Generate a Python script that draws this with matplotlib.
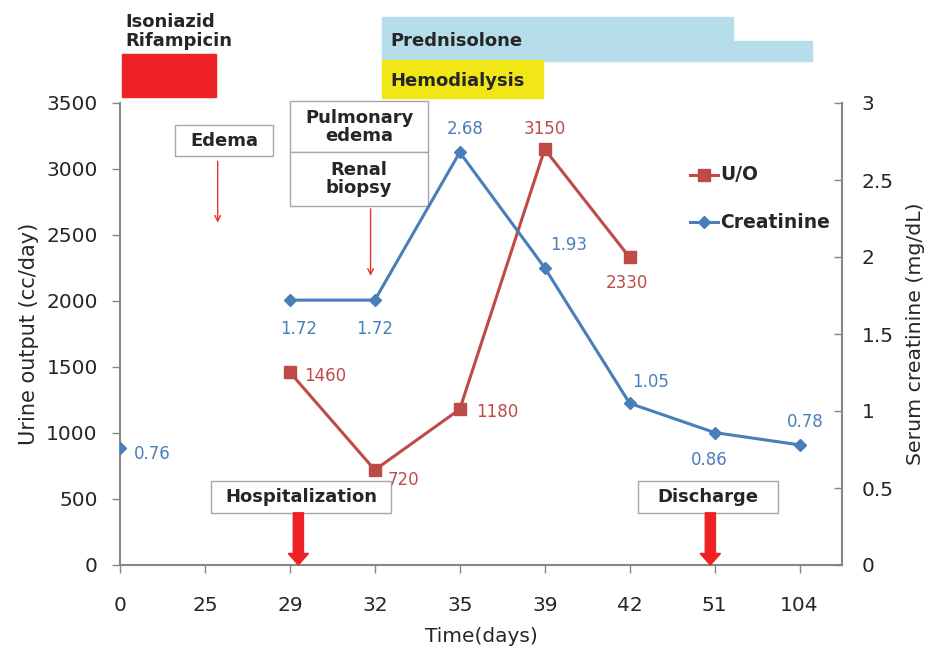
import numpy as np
import matplotlib.pyplot as plt
import matplotlib.transforms as mtransforms
from matplotlib.patches import Rectangle, FancyArrow

# Time points (days), shown as evenly spaced categories
days = ["0", "25", "29", "32", "35", "39", "42", "51", "104"]

# Serum creatinine (mg/dL) per time point, nan = not measured
creat_vals = [0.76, np.nan, 1.72, 1.72, 2.68, 1.93, 1.05, 0.86, 0.78]

# Urine output (cc/day) per time point
uo_vals = [np.nan, np.nan, 1460, 720, 1180, 3150, 2330, np.nan, np.nan]

blue = "#4A7EBB"
red = "#BE4B48"
grey = "#868686"
txt = "#262626"

fig = plt.figure(figsize=(9.3, 6.53), dpi=100)
ax = fig.add_axes([120 / 930, 88 / 653, 722 / 930, 462 / 653])
ax2 = ax.twinx()

x = np.arange(len(days))

ax.plot(x, uo_vals, color=red, lw=2.2, marker="s", ms=8, zorder=3)
ax2.plot(x, creat_vals, color=blue, lw=2.2, marker="D", ms=6, zorder=3)

ax.set_xlim(0, 8.5)
ax.set_ylim(0, 3500)
ax2.set_ylim(0, 3)
ax.set_xticks(x)
ax.set_xticklabels(days)
ax.set_yticks(range(0, 3501, 500))
ax2.set_yticks([0, 0.5, 1, 1.5, 2, 2.5, 3])
ax2.set_yticklabels(["0", "0.5", "1", "1.5", "2", "2.5", "3"])

for a in (ax, ax2):
    for s in a.spines.values():
        s.set_visible(False)
    a.tick_params(colors=grey, labelcolor=txt, labelsize=14.5, length=6, width=1)
ax.spines["left"].set_visible(True)
ax.spines["bottom"].set_visible(True)
ax2.spines["right"].set_visible(True)
for s in (ax.spines["left"], ax.spines["bottom"], ax2.spines["right"]):
    s.set_color(grey)
    s.set_linewidth(1.5)
ax.tick_params(axis="x", pad=16)
ax.tick_params(axis="y", pad=10)
ax2.tick_params(axis="y", direction="in", pad=14)

ax.set_xlabel("Time(days)", fontsize=14.5, color=txt, labelpad=9)
ax.set_ylabel("Urine output (cc/day)", fontsize=15, color=txt, labelpad=5)
ax2.set_ylabel("Serum creatinine (mg/dL)", fontsize=14.7, color=txt, labelpad=9)

# data labels
creat_off = [(10, -4, "left", "center"), None, (6, -14, "center", "top"),
             (0, -14, "center", "top"), (4, 10, "center", "bottom"),
             (4, 10, "left", "bottom"), (2, 9, "left", "bottom"),
             (-4, -13, "center", "top"), (4, 10, "center", "bottom")]
for p, v, off in zip(x, creat_vals, creat_off):
    if np.isnan(v):
        continue
    dx, dy, ha, va = off
    ax2.annotate(f"{v:.2f}", (p, v), xytext=(dx, dy), textcoords="offset points",
                 ha=ha, va=va, fontsize=12, color=blue)

uo_off = [None, None, (10, -3, "left", "center"), (9, -7, "left", "center"),
          (12, -2, "left", "center"), (0, 8, "center", "bottom"),
          (-2, -12, "center", "top"), None, None]
for p, v, off in zip(x, uo_vals, uo_off):
    if np.isnan(v):
        continue
    dx, dy, ha, va = off
    ax.annotate(f"{v:.0f}", (p, v), xytext=(dx, dy), textcoords="offset points",
                ha=ha, va=va, fontsize=12, color=red)

# legend
ax.plot([6.71, 6.875, 7.04], [2955] * 3, color=red, lw=2.2, marker="s", ms=8,
        markevery=[1], clip_on=False)
ax.plot([6.71, 6.875, 7.04], [2598] * 3, color=blue, lw=2.2, marker="D", ms=6,
        markevery=[1], clip_on=False)
ax.text(7.07, 2955, "U/O", fontsize=13.5, fontweight="bold", color=txt, va="center")
ax.text(7.07, 2598, "Creatinine", fontsize=13.5, fontweight="bold", color=txt,
        va="center")

# treatment bars above the plot (x in data, y in axes fraction)
tr = mtransforms.blended_transform_factory(ax.transData, ax.transAxes)
ax.add_patch(Rectangle((0.02, 1.012), 1.11, 0.095, transform=tr,
                       color="#EE2224", clip_on=False))
ax.add_patch(Rectangle((3.08, 1.091), 4.14, 0.095, transform=tr,
                       color="#B5DDEA", clip_on=False))
ax.add_patch(Rectangle((7.2, 1.091), 0.95, 0.043, transform=tr,
                       color="#B5DDEA", clip_on=False))
ax.add_patch(Rectangle((3.08, 1.011), 1.9, 0.081, transform=tr,
                       color="#F2E716", clip_on=False))
ax.text(0.06, 1.155, "Isoniazid\nRifampicin", transform=tr, fontsize=13,
        fontweight="bold", color=txt, va="center", ha="left", linespacing=1.05)
ax.text(3.18, 1.134, "Prednisolone", transform=tr, fontsize=13,
        fontweight="bold", color=txt, va="center")
ax.text(3.18, 1.048, "Hemodialysis", transform=tr, fontsize=13,
        fontweight="bold", color=txt, va="center")


def box(x0, x1, y0, y1, label):
    ax.add_patch(Rectangle((x0, y0), x1 - x0, y1 - y0, transform=tr,
                           facecolor="white", edgecolor="#A6A6A6", lw=1,
                           clip_on=False, zorder=4))
    ax.text((x0 + x1) / 2, (y0 + y1) / 2, label, transform=tr, ha="center",
            va="center", fontsize=13, fontweight="bold", color=txt,
            linespacing=1.0, zorder=5)


# event boxes
box(0.65, 1.80, 0.885, 0.952, "Edema")
box(2.0, 3.63, 0.894, 1.004, "Pulmonary\nedema")
box(2.0, 3.63, 0.777, 0.894, "Renal\nbiopsy")
box(1.07, 3.19, 0.113, 0.182, "Hospitalization")
box(6.1, 7.75, 0.113, 0.182, "Discharge")

# thin arrows
ax.annotate("", xy=(1.15, 0.735), xytext=(1.15, 0.88), xycoords=tr,
            arrowprops=dict(arrowstyle="->", color="#E8302F", lw=1))
ax.annotate("", xy=(2.95, 0.620), xytext=(2.95, 0.777), xycoords=tr,
            arrowprops=dict(arrowstyle="->", color="#E8302F", lw=1))

# thick arrows
for xa in (2.1, 6.95):
    ax.add_patch(FancyArrow(xa, 0.113, 0, -0.113, width=0.12, head_width=0.24,
                            head_length=0.025, length_includes_head=True,
                            transform=tr, color="#EE2224", clip_on=False, zorder=4))

fig.savefig("out.png", dpi=100)
